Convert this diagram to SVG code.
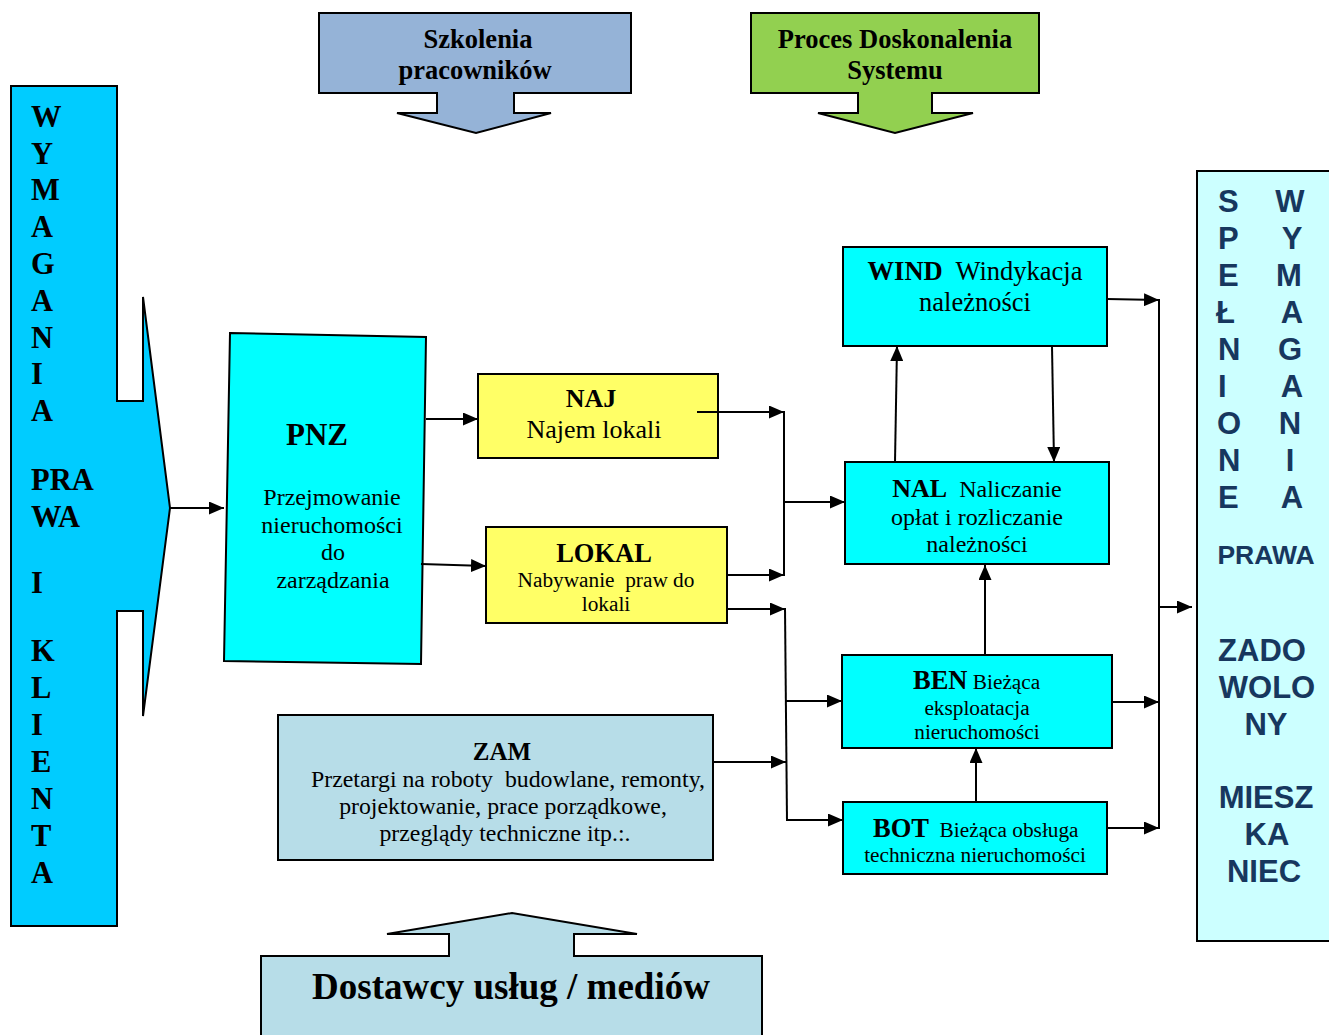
<svg xmlns="http://www.w3.org/2000/svg" width="1329" height="1035" viewBox="0 0 1329 1035">
  <defs>
    <marker id="arr" markerUnits="userSpaceOnUse" markerWidth="15" markerHeight="13" refX="15" refY="6.5" orient="auto">
      <path d="M0,0 L15,6.5 L0,13 Z" fill="#000"/>
    </marker>
    <style>
      .box { stroke: #000; stroke-width: 2; }
      .serif { font-family: "Liberation Serif", "Times New Roman", serif; fill: #000; }
      .b { font-weight: bold; }
      .sans { font-family: "Liberation Sans", Arial, sans-serif; font-weight: bold; fill: #17375E; }
      .c { text-anchor: middle; }
      .conn line { stroke: #000; stroke-width: 2; fill: none; }
      .conn .a { marker-end: url(#arr); }
    </style>
  </defs>
  <rect width="1329" height="1035" fill="#fff"/>

  <!-- Training block arrow -->
  <g id="szkolenia">
    <path class="box" fill="#95B3D7" d="M319,13 H631 V93 H514 V113 H551 L476,133 L397,113 H437 V93 H319 Z"/>
    <text class="serif b c" font-size="26.5" x="478" y="48">Szkolenia</text>
    <text class="serif b c" font-size="26.5" x="475" y="79">pracowników</text>
  </g>

  <!-- Improvement process block arrow -->
  <g id="doskonalenie">
    <path class="box" fill="#92D050" d="M751,13 H1039 V93 H932 V113 H973 L895,133 L818,113 H858 V93 H751 Z"/>
    <text class="serif b c" font-size="26.5" x="895" y="48">Proces Doskonalenia</text>
    <text class="serif b c" font-size="26.5" x="895" y="79">Systemu</text>
  </g>

  <!-- Client requirements arrow -->
  <g id="wymagania">
    <path class="box" fill="#00CCFF" d="M11,86 H117 V401 H143 V297 L170,508 L143,716 V611 H117 V926 H11 Z"/>
    <g class="serif b" font-size="30.5">
      <text x="31" y="127">W</text>
      <text x="31" y="164">Y</text>
      <text x="31" y="200">M</text>
      <text x="31" y="237">A</text>
      <text x="31" y="274">G</text>
      <text x="31" y="311">A</text>
      <text x="31" y="348">N</text>
      <text x="31" y="384">I</text>
      <text x="31" y="421">A</text>
      <text x="31" y="490">PRA</text>
      <text x="31" y="527">WA</text>
      <text x="31" y="593">I</text>
      <text x="31" y="661">K</text>
      <text x="31" y="698">L</text>
      <text x="31" y="735">I</text>
      <text x="31" y="772">E</text>
      <text x="31" y="809">N</text>
      <text x="31" y="846">T</text>
      <text x="31" y="883">A</text>
    </g>
  </g>

  <!-- PNZ -->
  <g id="pnz">
    <path class="box" fill="#00FFFF" d="M230,333 L426,337 L421,664 L224,661 Z"/>
    <text class="serif b c" font-size="31" x="317" y="445">PNZ</text>
    <text class="serif c" font-size="24" x="332" y="505">Przejmowanie</text>
    <text class="serif c" font-size="24" x="332" y="533">nieruchomości</text>
    <text class="serif c" font-size="24" x="333" y="560">do</text>
    <text class="serif c" font-size="24" x="333" y="588">zarządzania</text>
  </g>

  <!-- NAJ -->
  <g id="naj">
    <rect class="box" fill="#FFFF66" x="478" y="374" width="240" height="84"/>
    <text class="serif b c" font-size="26" x="591" y="407">NAJ</text>
    <text class="serif c" font-size="26" x="594" y="438">Najem lokali</text>
  </g>

  <!-- LOKAL -->
  <g id="lokal">
    <rect class="box" fill="#FFFF66" x="486" y="527" width="241" height="96"/>
    <text class="serif b c" font-size="26.5" x="604" y="562">LOKAL</text>
    <text class="serif c" font-size="21.3" x="606" y="587" xml:space="preserve">Nabywanie  praw do</text>
    <text class="serif c" font-size="21.3" x="606" y="611">lokali</text>
  </g>

  <!-- WIND -->
  <g id="wind">
    <rect class="box" fill="#00FFFF" x="843" y="247" width="264" height="99"/>
    <text class="serif c" font-size="26.5" x="975" y="280" xml:space="preserve"><tspan class="b">WIND</tspan>  Windykacja</text>
    <text class="serif c" font-size="26.5" x="975" y="311">należności</text>
  </g>

  <!-- NAL -->
  <g id="nal">
    <rect class="box" fill="#00FFFF" x="845" y="462" width="264" height="102"/>
    <text class="serif c" font-size="24" x="977" y="497" xml:space="preserve"><tspan class="b" font-size="26">NAL</tspan>  Naliczanie</text>
    <text class="serif c" font-size="24" x="977" y="525">opłat i rozliczanie</text>
    <text class="serif c" font-size="24" x="977" y="552">należności</text>
  </g>

  <!-- BEN -->
  <g id="ben">
    <rect class="box" fill="#00FFFF" x="842" y="655" width="270" height="93"/>
    <text class="serif" font-size="21.3" x="913" y="689"><tspan class="b" font-size="26.5">BEN</tspan> Bieżąca</text>
    <text class="serif c" font-size="21.3" x="977" y="715">eksploatacja</text>
    <text class="serif c" font-size="21.3" x="977" y="739">nieruchomości</text>
  </g>

  <!-- BOT -->
  <g id="bot">
    <rect class="box" fill="#00FFFF" x="843" y="802" width="264" height="72"/>
    <text class="serif" font-size="21.3" x="873" y="837" xml:space="preserve"><tspan class="b" font-size="26.5">BOT</tspan>  Bieżąca obsługa</text>
    <text class="serif c" font-size="21.3" x="975" y="862">techniczna nieruchomości</text>
  </g>

  <!-- ZAM -->
  <g id="zam">
    <rect class="box" fill="#B7DDE8" x="278" y="715" width="435" height="145"/>
    <text class="serif b c" font-size="25" x="502" y="760">ZAM</text>
    <text class="serif c" font-size="23.8" x="508" y="787" xml:space="preserve">Przetargi na roboty  budowlane, remonty,</text>
    <text class="serif c" font-size="23.8" x="503" y="814">projektowanie, prace porządkowe,</text>
    <text class="serif c" font-size="23.8" x="505" y="841">przeglądy techniczne itp.:.</text>
  </g>

  <!-- Suppliers block arrow -->
  <g id="dostawcy">
    <path class="box" fill="#B7DDE8" d="M261,1040 V956 H449 V934 H387 L512,913 L637,934 H574 V956 H762 V1040 Z"/>
    <text class="serif b c" font-size="37" x="511" y="999">Dostawcy usług / mediów</text>
  </g>

  <!-- Outcome panel -->
  <g id="wynik">
    <rect class="box" fill="#CCFFFF" x="1197" y="171" width="140" height="770"/>
    <g class="sans" font-size="31">
      <text x="1218" y="212">S</text>
      <text x="1218" y="249">P</text>
      <text x="1218" y="286">E</text>
      <text x="1216" y="323">Ł</text>
      <text x="1218" y="360">N</text>
      <text x="1218" y="397">I</text>
      <text x="1217" y="434">O</text>
      <text x="1218" y="471">N</text>
      <text x="1218" y="508">E</text>
    </g>
    <g class="sans c" font-size="31">
      <text x="1290" y="212">W</text>
      <text x="1292" y="249">Y</text>
      <text x="1289" y="286">M</text>
      <text x="1292" y="323">A</text>
      <text x="1290" y="360">G</text>
      <text x="1292" y="397">A</text>
      <text x="1290" y="434">N</text>
      <text x="1290" y="471">I</text>
      <text x="1292" y="508">A</text>
    </g>
    <text class="sans c" font-size="26.5" x="1266" y="564">PRAWA</text>
    <g class="sans c" font-size="31">
      <text x="1262" y="661">ZADO</text>
      <text x="1267" y="698">WOLO</text>
      <text x="1266" y="735">NY</text>
      <text x="1266" y="808">MIESZ</text>
      <text x="1267" y="845">KA</text>
      <text x="1264" y="882">NIEC</text>
    </g>
  </g>

  <!-- Connectors -->
  <g id="connectors" class="conn">
    <line class="a" x1="170" y1="508" x2="224" y2="508"/>
    <line class="a" x1="426" y1="419" x2="478" y2="419"/>
    <line class="a" x1="421" y1="564" x2="486" y2="566"/>
    <line class="a" x1="697" y1="412" x2="784" y2="412"/>
    <line class="a" x1="727" y1="575" x2="784" y2="575"/>
    <line x1="784" y1="411" x2="784" y2="576"/>
    <line class="a" x1="784" y1="502" x2="845" y2="502"/>
    <line class="a" x1="727" y1="609" x2="785" y2="609"/>
    <line x1="785" y1="608" x2="787" y2="821"/>
    <line class="a" x1="786" y1="701" x2="842" y2="701"/>
    <line class="a" x1="787" y1="820" x2="843" y2="820"/>
    <line class="a" x1="713" y1="762" x2="786" y2="762"/>
    <line class="a" x1="895" y1="462" x2="897" y2="346"/>
    <line class="a" x1="1052" y1="346" x2="1054" y2="462"/>
    <line class="a" x1="985" y1="655" x2="985" y2="565"/>
    <line class="a" x1="976" y1="802" x2="976" y2="748"/>
    <line class="a" x1="1107" y1="299" x2="1159" y2="300"/>
    <line x1="1159" y1="299" x2="1159" y2="829"/>
    <line class="a" x1="1112" y1="702" x2="1159" y2="702"/>
    <line class="a" x1="1107" y1="828" x2="1159" y2="828"/>
    <line class="a" x1="1159" y1="607" x2="1192" y2="607"/>
  </g>
</svg>
